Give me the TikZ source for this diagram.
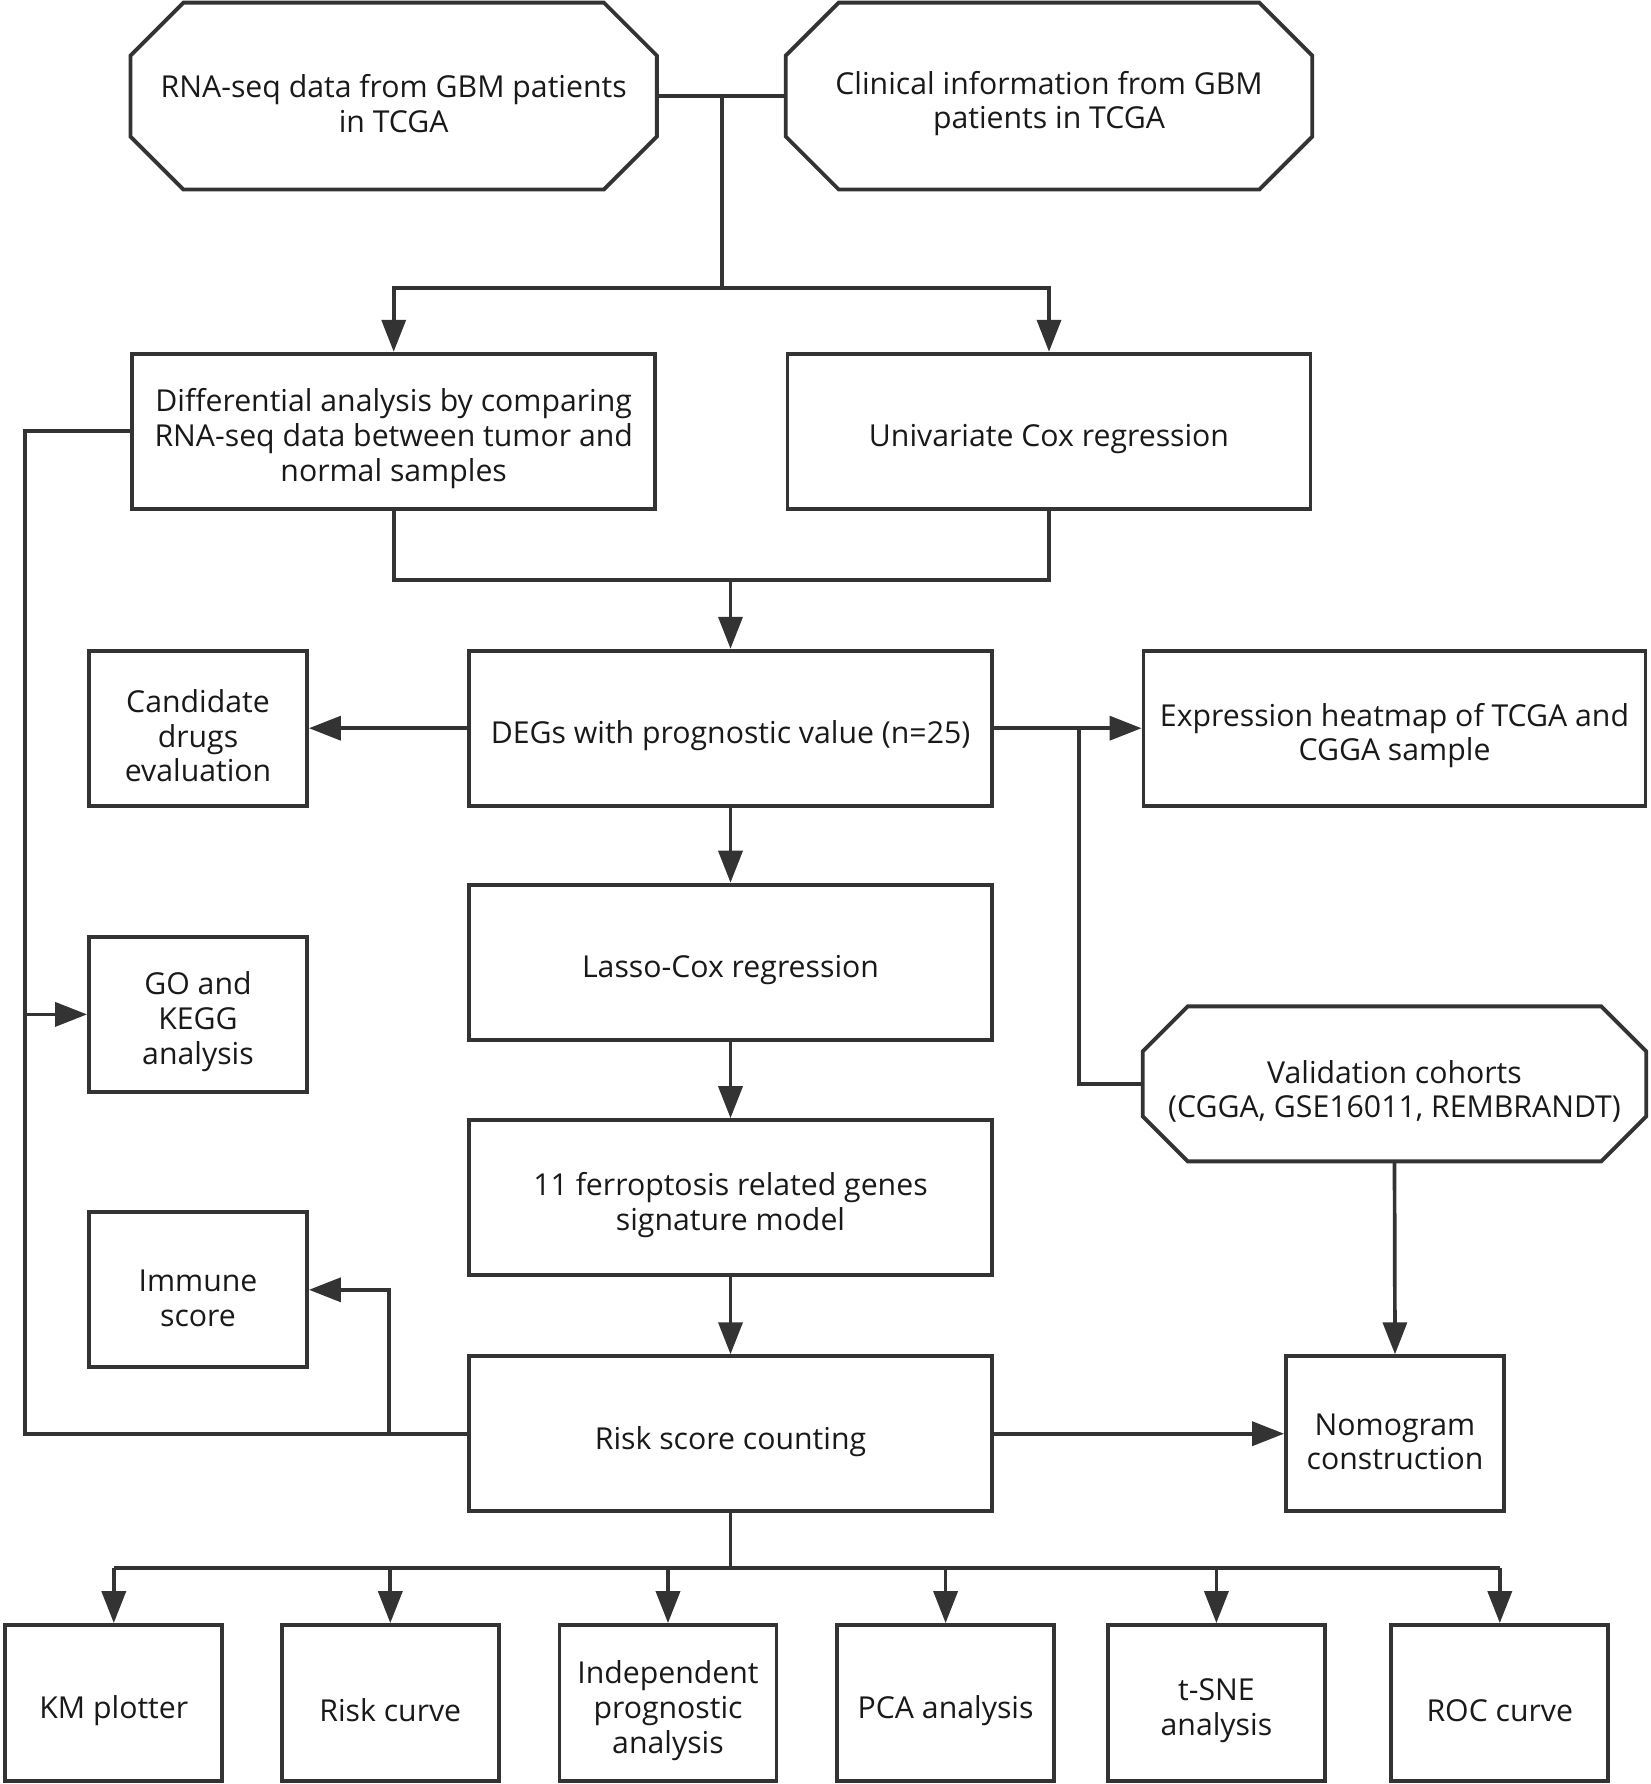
\documentclass[tikz,border=0pt]{standalone}
\usepackage{fontspec}
\setmainfont{Open Sans}
\usepackage{tikz}
\usetikzlibrary{arrows.meta,positioning,calc}
\definecolor{inkgray}{HTML}{333333}

% octagon outline around a (borderless) node
\newcommand{\octagon}[2]{%
  \draw[boxline] ([xshift=#2]#1.north west) -- ([xshift=-#2]#1.north east)
    -- ([yshift=-#2]#1.north east) -- ([yshift=#2]#1.south east)
    -- ([xshift=-#2]#1.south east) -- ([xshift=#2]#1.south west)
    -- ([yshift=#2]#1.south west) -- ([yshift=-#2]#1.north west) -- cycle;}

\begin{document}
\begin{tikzpicture}[
  boxline/.style = {draw=inkgray, line width=1.1pt},
  line/.style = {draw=inkgray, line width=1.05pt},
  arr/.style = {line, -{Triangle[length=3.2mm, width=2.4mm]}},
  boxtext/.style = {align=flush center, font=\fontsize{8.6}{9.9}\selectfont, inner sep=0pt,
                    text=black!90, execute at begin node={\rule{0pt}{10.8pt}}},
  procbox/.style = {boxline, boxtext, text width=5cm, minimum width=5.23cm, minimum height=1.55cm},
  sidebox/.style = {procbox, text width=2.1cm, minimum width=2.18cm},
  termbox/.style = {boxtext, text width=5cm, minimum width=5.25cm, minimum height=1.855cm},
]
\useasboundingbox (0,0) rectangle (16.5,-17.84);

% Data sources
\node[termbox] (rna) at (3.937,-0.961) {RNA-seq data from GBM patients\\in TCGA};
\node[termbox] (clin) at (10.49,-0.961) {Clinical information from GBM\\patients in TCGA};
\octagon{rna}{0.53cm}
\octagon{clin}{0.53cm}

% First analyses
\node[procbox] (diff) at (3.937,-4.312) {Differential analysis by comparing\\RNA-seq data between tumor and\\normal samples};
\node[procbox] (unicox) at (10.49,-4.312) {Univariate Cox regression};

% Main column
\node[procbox] (degs) at (7.305,-7.282) {DEGs with prognostic value (n=25)};
\node[procbox] (lasso) at (7.305,-9.621) {Lasso-Cox regression};
\node[procbox] (ferro) at (7.305,-11.976) {11 ferroptosis related genes\\signature model};
\node[procbox] (risk) at (7.305,-14.337) {Risk score counting};

% Left column
\node[sidebox] (cand) at (1.98,-7.282) {Candidate\\drugs\\evaluation};
\node[sidebox] (goa) at (1.98,-10.144) {GO and\\KEGG\\analysis};
\node[sidebox] (immune) at (1.98,-12.898) {Immune\\score};

% Right column
\node[procbox, minimum width=5.02cm] (expr) at (13.945,-7.282) {Expression heatmap of TCGA and\\CGGA sample};
\node[termbox, minimum width=5.02cm, minimum height=1.536cm] (valid) at (13.945,-10.839) {Validation cohorts\\(CGGA, GSE16011, REMBRANDT)};
\octagon{valid}{0.45cm}
\node[sidebox] (nomo) at (13.95,-14.337) {Nomogram\\construction};

% Bottom row
\node[sidebox, minimum width=2.17cm, minimum height=1.56cm] (km) at (1.138,-17.03) {KM plotter};
\node[sidebox, minimum width=2.17cm, minimum height=1.56cm] (riskc) at (3.903,-17.03) {Risk curve};
\node[sidebox, minimum width=2.17cm, minimum height=1.56cm] (indep) at (6.68,-17.03) {Independent\\prognostic\\analysis};
\node[sidebox, minimum width=2.17cm, minimum height=1.56cm] (pca) at (9.456,-17.03) {PCA analysis};
\node[sidebox, minimum width=2.17cm, minimum height=1.56cm] (tsne) at (12.164,-17.03) {t-SNE\\analysis};
\node[sidebox, minimum width=2.17cm, minimum height=1.56cm] (roc) at (14.998,-17.03) {ROC curve};

% Junctions
\coordinate (split1) at (7.22,-2.879);
\coordinate (merge) at (7.305,-5.803);
\coordinate (split2) at (10.787,-7.282);
\coordinate (lbus) at (0.25,-4.312);
\coordinate (immfork) at (3.892,-14.337);
\coordinate (bbus) at (7.305,-15.68);

% Arrows
\draw[line] (rna.east) -- (clin.west);
\draw[line] (split1 |- rna.east) -- (split1);
\draw[arr] (split1) -| (diff.north);
\draw[arr] (split1) -| (unicox.north);
\draw[line] (diff.south) |- (unicox.south |- merge) -- (unicox.south);
\draw[arr] (merge) -- (degs.north);
\draw[arr] (degs.west) -- (cand.east);
\draw[arr] (degs.east) -- (expr.west);
\draw[line] (split2) |- (valid.west);
\draw[arr] (degs.south) -- (lasso.north);
\draw[arr] (lasso.south) -- (ferro.north);
\draw[arr] (ferro.south) -- (risk.north);
\draw[arr] (valid.south) -- (nomo.north);
\draw[arr] (risk.east) -- (nomo.west);
\draw[line] (diff.west) -- (lbus) |- (risk.west);
\draw[arr] (lbus |- goa.west) -- (goa.west);
\draw[arr] (immfork) |- (immune.east);
\draw[line] (risk.south) -- (bbus);
\draw[line] (km.north |- bbus) -- (roc.north |- bbus);
\foreach \n in {km,riskc,indep,pca,tsne,roc}
  \draw[arr] (\n.north |- bbus) -- (\n.north);
\end{tikzpicture}
\end{document}
